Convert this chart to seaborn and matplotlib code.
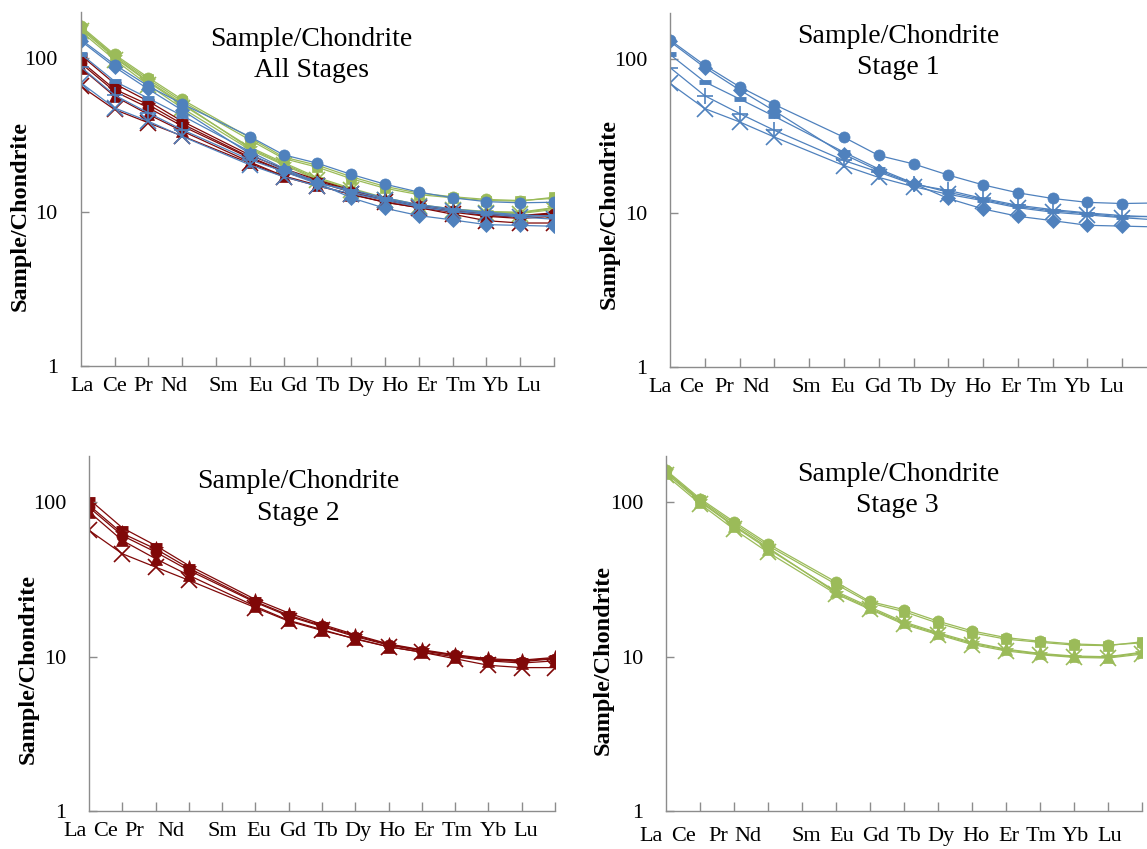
import numpy as np
import pandas as pd
import seaborn as sns
import matplotlib.pyplot as plt
from matplotlib.ticker import FixedLocator, FixedFormatter, NullFormatter, NullLocator

# REE slots along the x axis (Pm has no analysis, so its slot stays empty)
slots = ['La', 'Ce', 'Pr', 'Nd', 'Pm', 'Sm', 'Eu', 'Gd', 'Tb', 'Dy', 'Ho', 'Er', 'Tm', 'Yb', 'Lu']
elements = ['La', 'Ce', 'Pr', 'Nd', 'Sm', 'Eu', 'Gd', 'Tb', 'Dy', 'Ho', 'Er', 'Tm', 'Yb', 'Lu']
y_ticks = [1, 10, 100]

# Stage 1 samples (chondrite normalised)
s1_circle = [133, 91, 66, 50.6, 31, 23.6, 20.8, 17.6, 15.2, 13.5, 12.4, 11.7, 11.5, 11.6]
s1_diamond = [130, 88, 63, 46, 24, 18.8, 15.5, 12.4, 10.6, 9.5, 8.9, 8.3, 8.2, 8.1]
s1_dash = [107, 71, 55, 42.4, 24.8, 19.3, 15.6, 13.6, 12.2, 11.0, 10.3, 9.9, 9.4, 9.5]
s1_plus = [88, 57.7, 44.2, 34.4, 21.9, 18.4, 15.3, 14.0, 12.4, 11.2, 10.5, 10.0, 9.6, 9.4]
s1_cross = [69.4, 47.6, 39, 31.1, 20.3, 17.0, 14.8, 13.2, 12.0, 10.8, 10.1, 9.7, 9.3, 9.0]

# Stage 2 samples
s2_bar = [105, 68.5, 52.6, 39, 23.5, 19.2, 16.2, 13.9, 12.1, 11.1, 10.3, 9.7, 9.5, 9.9]
s2_star = [96, 63, 50, 37.5, 22.8, 18.6, 15.9, 13.7, 12.0, 11.0, 10.2, 9.6, 9.4, 9.8]
s2_circle = [93, 61, 47.7, 36.3, 22.5, 18.3, 15.7, 13.5, 11.9, 10.9, 10.2, 9.5, 9.3, 9.7]
s2_triangle = [87, 56.7, 43.2, 33.7, 21.2, 17.2, 15.0, 13.0, 11.6, 10.7, 10.0, 9.4, 9.1, 9.4]
s2_cross = [66, 46.5, 38.1, 31.3, 20.8, 17.0, 14.8, 13.1, 11.6, 10.7, 9.7, 8.8, 8.5, 8.5]

# Stage 3 samples
s3_circle = [162, 106, 75, 54, 30.5, 22.8, 20.2, 17.0, 14.7, 13.3, 12.6, 12.1, 11.9, 12.3]
s3_square = [158, 104, 73, 52.5, 29.5, 22.3, 19.6, 16.5, 14.3, 13.0, 12.4, 11.9, 11.8, 12.5]
s3_star = [160, 102, 71, 51, 26, 20.6, 16.5, 14.1, 12.2, 11.1, 10.4, 10.0, 9.9, 10.6]
s3_triangle = [155, 101, 70, 50, 26.5, 21.0, 16.8, 14.3, 12.4, 11.2, 10.5, 10.1, 10.0, 10.7]
s3_cross = [150, 98, 67, 47.5, 25.5, 20.3, 16.2, 13.9, 12.0, 10.9, 10.3, 9.9, 9.8, 10.4]

BLUE = '#4F81BD'
RED = '#800808'
GREEN = '#9BBB59'
AXIS_GREY = '#8C8C8C'

stage1 = [(s1_circle, 'o'), (s1_diamond, 'D'), (s1_dash, '_'), (s1_plus, '+'), (s1_cross, 'x')]
stage2 = [(s2_bar, '_'), (s2_star, '*'), (s2_circle, 'o'), (s2_triangle, '^'), (s2_cross, 'x')]
stage3 = [(s3_circle, 'o'), (s3_square, 's'), (s3_star, '*'), (s3_triangle, '^'), (s3_cross, 'x')]

marker_size = {'o': 8, 'D': 7, '_': 8, '+': 12, 'x': 11, '*': 11, '^': 8.5, 's': 7.5}
marker_edge = {'o': 0.5, 'D': 0.5, '_': 3.5, '+': 1.2, 'x': 1.2, '*': 0.5, '^': 0.5, 's': 0.5}

xpos = [slots.index(e) for e in elements]

sns.set_theme(style="white")
plt.rcParams['font.family'] = ['Liberation Serif', 'DejaVu Serif']
plt.rcParams['text.color'] = 'black'
plt.rcParams['axes.labelcolor'] = 'black'

W, H = 1147, 849
fig = plt.figure(figsize=(W / 100, H / 100), dpi=100)


def make_axes(left, bottom, width, height):
    return fig.add_axes([left / W, bottom / H, width / W, height / H])


def draw_series(ax, group, color):
    for vals, m in group:
        df = pd.DataFrame({'x': xpos, 'y': vals})
        sns.lineplot(data=df, x='x', y='y', ax=ax, color=color, linewidth=0.9,
                     marker=m, markersize=marker_size[m], markeredgewidth=marker_edge[m],
                     markeredgecolor=color, markerfacecolor=color, legend=False)


def style_axes(ax, title, tx, ty, label_pos, ylab_x, ylab_y, xlab_off):
    ax.set_yscale('log')
    ax.set_ylim(1, 200)
    ax.set_xlim(0, 14)
    ax.set_xlabel('')
    ax.set_ylabel('Sample/Chondrite', fontsize=17.5, fontweight='bold')
    ax.yaxis.set_label_coords(ylab_x, ylab_y)
    for side in ['top', 'right']:
        ax.spines[side].set_visible(False)
    for side in ['left', 'bottom']:
        ax.spines[side].set_color(AXIS_GREY)
        ax.spines[side].set_linewidth(1.0)
    # y axis
    ax.yaxis.set_major_locator(FixedLocator(y_ticks))
    ax.yaxis.set_major_formatter(FixedFormatter([str(v) for v in y_ticks]))
    ax.yaxis.set_minor_locator(NullLocator())
    ax.tick_params(axis='y', which='major', direction='in', length=6, width=1,
                   color=AXIS_GREY, labelcolor='black', labelsize=16, pad=16.5, left=True)
    # x axis: tick marks at the slots, element names typed along one row
    ax.xaxis.set_major_locator(FixedLocator(list(range(1, 15))))
    ax.xaxis.set_major_formatter(NullFormatter())
    ax.xaxis.set_minor_locator(NullLocator())
    ax.tick_params(axis='x', which='major', direction='in', length=6.5, width=1,
                   color=AXIS_GREY, bottom=True)
    for name, pos in zip(elements, label_pos):
        ax.annotate(name, xy=(pos, 0), xycoords=ax.get_xaxis_transform(),
                    xytext=(0, -xlab_off), textcoords='offset points',
                    ha='center', va='center', fontsize=16, annotation_clip=False)
    ax.grid(False)
    ax.text(tx, ty, title, transform=ax.transAxes, ha='center', va='center',
            fontsize=20, linespacing=1.32)


# panel geometry in pixels: left, bottom (from figure bottom), width, height
ax1 = make_axes(80.7, H - 366, 473.3, 354)
ax2 = make_axes(670, H - 366.7, 487, 354)
ax3 = make_axes(89, H - 811, 466, 355)
ax4 = make_axes(666, H - 811, 476, 355)

draw_series(ax1, stage3, GREEN)
draw_series(ax1, stage2, RED)
draw_series(ax1, stage1, BLUE)
draw_series(ax2, stage1, BLUE)
draw_series(ax3, stage2, RED)
draw_series(ax4, stage3, GREEN)

lab1 = [0.05, 1.0, 1.85, 2.76, 4.23, 5.33, 6.31, 7.30, 8.28, 9.3, 10.23, 11.24, 12.28, 13.26]
lab2 = [-0.3, 0.63, 1.57, 2.46, 3.93, 4.97, 5.96, 6.9, 7.86, 8.84, 9.8, 10.7, 11.7, 12.7]
lab3 = [-0.42, 0.49, 1.35, 2.46, 4.0, 5.1, 6.11, 7.13, 8.09, 9.1, 10.05, 11.07, 12.16, 13.12]
lab4 = [-0.43, 0.5, 1.54, 2.41, 4.12, 5.18, 6.16, 7.15, 8.1, 9.12, 10.07, 11.03, 12.04, 13.06]

style_axes(ax1, 'Sample/Chondrite\nAll Stages', 0.487, 0.878, lab1, -50 / 473.3, 0.424, 15)
style_axes(ax2, 'Sample/Chondrite\nStage 1', 0.468, 0.89, lab2, -50 / 487, 0.43, 15)
style_axes(ax3, 'Sample/Chondrite\nStage 2', 0.45, 0.883, lab3, -50 / 466, 0.40, 15)
style_axes(ax4, 'Sample/Chondrite\nStage 3', 0.487, 0.905, lab4, -52 / 476, 0.425, 18.5)

fig.savefig('out.png', dpi=100)
plt.close(fig)
